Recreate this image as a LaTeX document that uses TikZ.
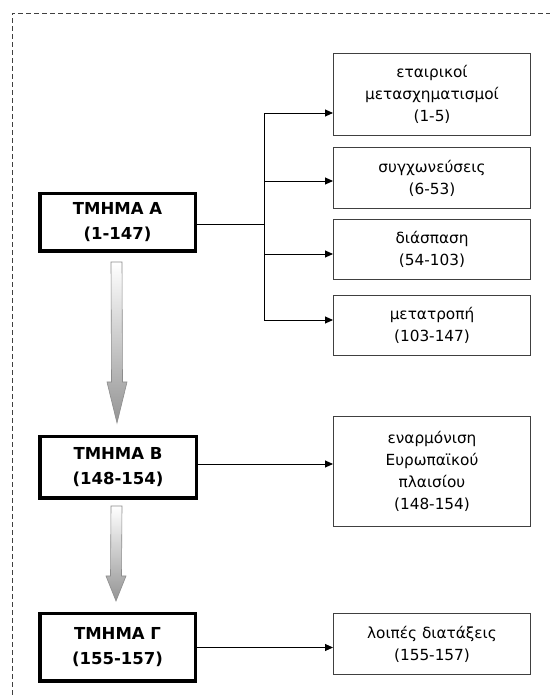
\documentclass[tikz,border=0pt]{standalone}
\usepackage{fontspec}
\setmainfont{DejaVu Sans}
\usetikzlibrary{arrows.meta,calc}

\tikzset{
  part/.style={draw=black, line width=3.5pt, align=center, inner sep=0pt,
    font=\fontsize{16.5}{25}\selectfont\bfseries},
  topic/.style={draw=black!75, line width=1pt, align=center, inner sep=0pt,
    minimum width=197pt, font=\fontsize{15.3}{22}\selectfont},
  conn/.style={draw=black, line width=0.9pt, -{Triangle[length=8pt,width=7pt]}},
  frame/.style={draw=black!75, line width=0.8pt, dash pattern=on 5pt off 3pt},
  blockarrow/.style={top color=white, bottom color=black!42, draw=black!45, line width=0.6pt}
}

% shaded block arrow: shaft top, tip, head length
\newcommand\grayarrow[3]{%
  \path[blockarrow]
    ($(#1)+(-5.5,0)$) -- ($(#1)+(5.5,0)$) -- ($(#2)+(5.5,#3)$) --
    ($(#2)+(10,#3)$) -- (#2) -- ($(#2)+(-10,#3)$) -- ($(#2)+(-5.5,#3)$) -- cycle;}

\begin{document}
\begin{tikzpicture}[x=1pt,y=1pt]
\useasboundingbox (0,0) rectangle (550,695);
\fill[white] (0,0) rectangle (550,695);

% dashed outer frame (open to the right and bottom)
\draw[frame] (12,0) -- (12,682) -- (550,682);

% main parts
\node[part, minimum width=155.5pt, minimum height=57.5pt] (ta) at (117.5,472.5) {ΤΜΗΜΑ Α\\(1-147)};
\node[part, minimum width=156.5pt, minimum height=61.5pt] (tb) at (118,227.5) {ΤΜΗΜΑ Β\\(148-154)};
\node[part, minimum width=155.5pt, minimum height=67.5pt] (tc) at (117.5,47.5) {ΤΜΗΜΑ Γ\\(155-157)};

% topics
\node[topic, minimum height=82pt] (r1) at (432,600.5) {εταιρικοί\\μετασχηματισμοί\\(1-5)};
\node[topic, minimum height=61pt] (r2) at (432,517) {συγχωνεύσεις\\(6-53)};
\node[topic, minimum height=60pt] (r3) at (432,445.5) {διάσπαση\\(54-103)};
\node[topic, minimum height=60pt] (r4) at (432,369.5) {μετατροπή\\(103-147)};
\node[topic, minimum height=110pt] (r5) at (432,223.5) {εναρμόνιση\\Ευρωπαϊκού\\πλαισίου\\(148-154)};
\node[topic, minimum height=61pt] (r6) at (432,51) {λοιπές διατάξεις\\(155-157)};

% branching from part A
\coordinate (br) at (264,471);
\draw[line width=0.9pt] (ta.east |- br) -- (br);
\draw[conn] (br) |- ([yshift=-18.5pt]r1.west);
\draw[conn] (br) |- ([yshift=-3pt]r2.west);
\draw[conn] (br) |- ([yshift=-4.5pt]r3.west);
\draw[conn] (br) |- ([yshift=5.5pt]r4.west);

% parts B and C
\draw[conn] ([yshift=3.5pt]tb.east) -- ([yshift=3.5pt]tb.east -| r5.west);
\draw[conn] (tc.east) -- (tc.east -| r6.west);

% shaded arrows between the parts
\coordinate (a1s) at ([xshift=-1pt,yshift=-9pt]ta.south);
\coordinate (a1e) at ([xshift=-1pt,yshift=12pt]tb.north);
\grayarrow{a1s}{a1e}{41}
\coordinate (a2s) at ([xshift=-1.5pt,yshift=-6pt]tb.south);
\coordinate (a2e) at ([xshift=-1.5pt,yshift=11pt]tc.north);
\grayarrow{a2s}{a2e}{25}
\end{tikzpicture}
\end{document}
